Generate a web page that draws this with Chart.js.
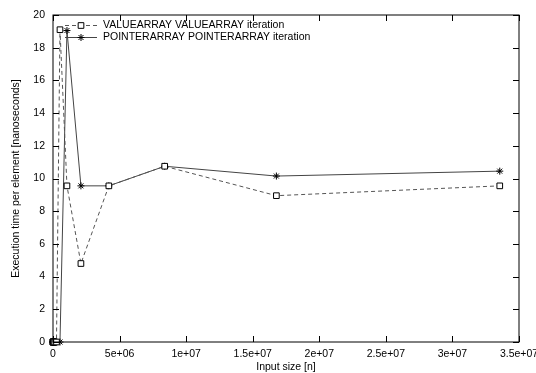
<!DOCTYPE html>
<html>
<head>
<meta charset="utf-8">
<script src="https://cdn.jsdelivr.net/npm/chart.js@4.4.1/dist/chart.umd.min.js"></script>
<style>
  body { margin: 0; background: #fff; }
</style>
</head>
<body>
<canvas id="chart" width="536" height="373"></canvas>
<script>
// input sizes 2^10 .. 2^25
const inputSizes = [1024, 2048, 4096, 8192, 16384, 32768, 65536, 131072, 262144,
    524288, 1048576, 2097152, 4194304, 8388608, 16777216, 33554432];
const valueTimes = [0, 0, 0, 0, 0, 0, 0, 0, 0,
    19.1, 9.55, 4.8, 9.55, 10.75, 8.95, 9.55];
const pointerTimes = [0, 0, 0, 0, 0, 0, 0, 0, 0,
    0, 19.05, 9.55, 9.55, 10.75, 10.15, 10.45];
const seriesLabels = ['VALUEARRAY VALUEARRAY iteration', 'POINTERARRAY POINTERARRAY iteration'];
const xTicks = [0, 5e6, 1e7, 1.5e7, 2e7, 2.5e7, 3e7, 3.5e7];
const yTicks = [0, 2, 4, 6, 8, 10, 12, 14, 16, 18, 20];

const FONT = { family: "'Liberation Sans', Arial, sans-serif", size: 10.5 };

function toPoints(ys) {
    return inputSizes.map((x, i) => ({ x: x, y: ys[i] }));
}

function fmtX(v) {
    if (v === 0) return '0';
    return v.toExponential().replace(/e\+(\d)$/, 'e+0$1');
}

// gnuplot style border with inward ticks on all four sides
const frame = {
    id: 'frame',
    afterDatasetsDraw(chart) {
        const ctx = chart.ctx, a = chart.chartArea;
        const xs = chart.scales.x, ys = chart.scales.y;
        const t = 6;
        ctx.save();
        ctx.strokeStyle = '#000';
        ctx.lineWidth = 1;
        ctx.strokeRect(a.left, a.top, a.right - a.left, a.bottom - a.top);
        ctx.beginPath();
        xTicks.forEach(v => {
            const px = Math.round(xs.getPixelForValue(v)) + 0.5;
            ctx.moveTo(px, a.bottom); ctx.lineTo(px, a.bottom - t);
            ctx.moveTo(px, a.top); ctx.lineTo(px, a.top + t);
        });
        yTicks.forEach(v => {
            const py = Math.round(ys.getPixelForValue(v)) + 0.5;
            ctx.moveTo(a.left, py); ctx.lineTo(a.left + t, py);
            ctx.moveTo(a.right, py); ctx.lineTo(a.right - t, py);
        });
        ctx.stroke();
        ctx.restore();
    }
};

// legend inside the plot, top left
const insideLegend = {
    id: 'insideLegend',
    afterDraw(chart) {
        const ctx = chart.ctx, a = chart.chartArea;
        ctx.save();
        ctx.font = FONT.size + 'px ' + FONT.family;
        ctx.textBaseline = 'middle';
        ctx.fillStyle = '#000';
        chart.data.datasets.forEach((ds, i) => {
            const y = a.top + 10.5 + i * 12;
            const x0 = a.left + 12, x1 = a.left + 44;
            ctx.strokeStyle = ds.borderColor;
            ctx.lineWidth = 1;
            ctx.setLineDash(ds.borderDash || []);
            ctx.beginPath();
            ctx.moveTo(x0, y); ctx.lineTo(x1, y);
            ctx.stroke();
            ctx.setLineDash([]);
            ctx.strokeStyle = ds.pointBorderColor;
            ctx.fillStyle = ds.pointBackgroundColor;
            Chart.helpers.drawPoint(ctx, {
                pointStyle: ds.pointStyle, radius: ds.pointRadius,
                borderWidth: 1, rotation: 0
            }, (x0 + x1) / 2, y);
            ctx.fillStyle = '#000';
            ctx.fillText(ds.label, x1 + 6, y);
        });
        ctx.restore();
    }
};

const config = {
    type: 'line',
    data: {
        datasets: [{
            label: seriesLabels[0],
            data: toPoints(valueTimes),
            borderColor: '#555',
            borderWidth: 1,
            borderDash: [4, 3],
            pointStyle: 'rect',
            pointRadius: 4,
            pointBorderColor: '#000',
            pointBackgroundColor: '#fff',
            pointBorderWidth: 1,
            clip: false
        }, {
            label: seriesLabels[1],
            data: toPoints(pointerTimes),
            borderColor: '#444',
            borderWidth: 1,
            pointStyle: 'star',
            pointRadius: 3.5,
            pointBorderColor: '#000',
            pointBackgroundColor: '#000',
            pointBorderWidth: 1,
            clip: false
        }]
    },
    options: {
        responsive: false,
        animation: false,
        devicePixelRatio: 1,
        layout: { padding: { top: 15, right: 17, left: 0, bottom: 0 } },
        plugins: { legend: { display: false }, tooltip: { enabled: false } },
        elements: { line: { tension: 0 } },
        scales: {
            x: {
                type: 'linear',
                min: 0,
                max: 3.5e7,
                grid: { display: false, drawTicks: false },
                border: { display: false },
                afterBuildTicks: s => { s.ticks = xTicks.map(v => ({ value: v })); },
                afterFit: s => { s.height = 31; s.paddingLeft = 0; s.paddingRight = 0; },
                ticks: {
                    padding: 6,
                    maxRotation: 0,
                    autoSkip: false,
                    color: '#000',
                    font: FONT,
                    callback: v => fmtX(v)
                },
                title: {
                    display: true,
                    text: 'Input size [n]',
                    color: '#000',
                    font: FONT,
                    padding: { top: 0, bottom: 0 }
                }
            },
            y: {
                min: 0,
                max: 20,
                grid: { display: false, drawTicks: false },
                border: { display: false },
                afterBuildTicks: s => { s.ticks = yTicks.map(v => ({ value: v })); },
                afterFit: s => { s.width = 53; s.paddingTop = 0; s.paddingBottom = 0; },
                ticks: {
                    padding: 8,
                    color: '#000',
                    font: FONT
                },
                title: {
                    display: true,
                    text: 'Execution time per element [nanoseconds]',
                    color: '#000',
                    font: FONT,
                    padding: { top: 10, bottom: 0 }
                }
            }
        }
    },
    plugins: [frame, insideLegend]
};

const chart = new Chart(document.getElementById('chart'), config);
</script>
</body>
</html>
